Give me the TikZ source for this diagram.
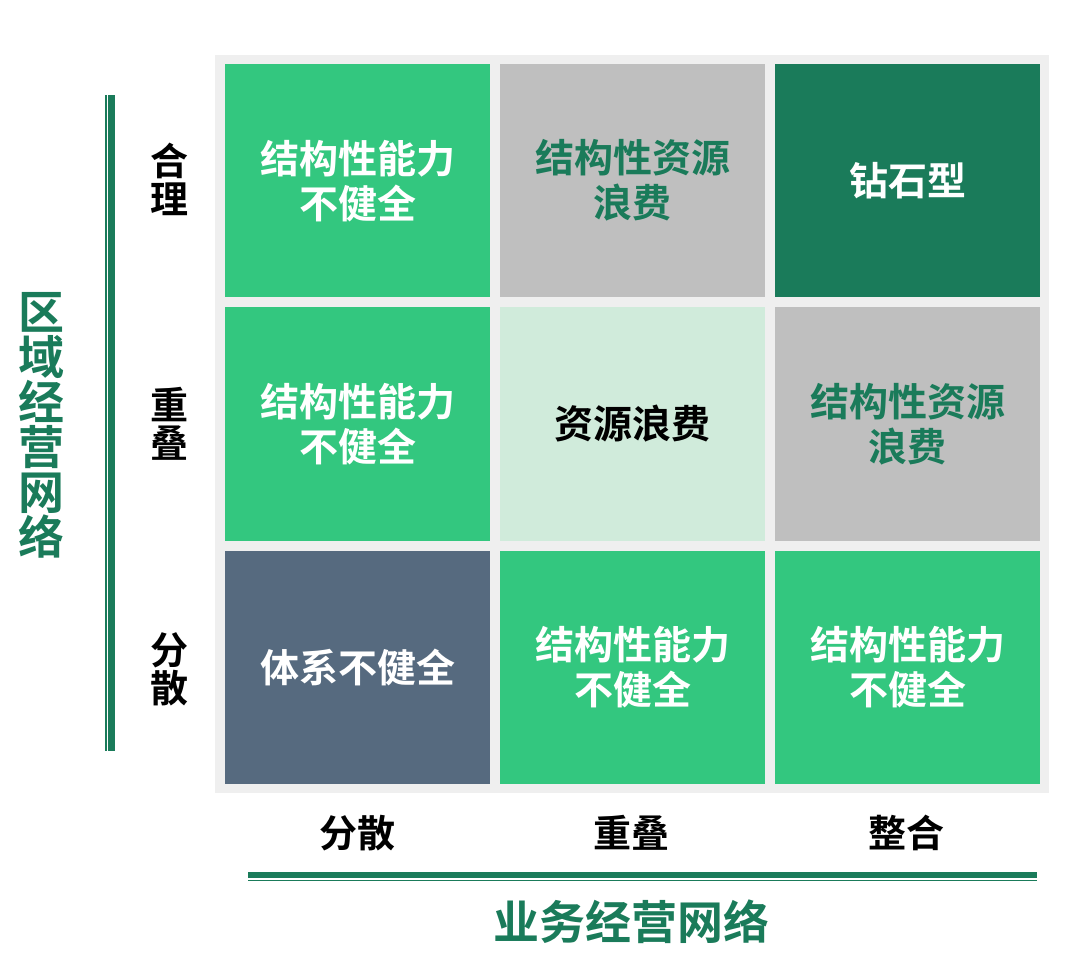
\documentclass[tikz,border=0pt]{standalone}
\usepackage{fontspec}
\setmainfont{Noto Sans CJK SC}[BoldFont={Noto Sans CJK SC Bold}]
\newfontfamily\cjkb{Noto Sans CJK SC Bold}
\definecolor{cgreen}{HTML}{33C77F}
\definecolor{dgreen}{HTML}{1A7B5A}
\definecolor{cgray}{HTML}{BFBFBF}
\definecolor{lgreen}{HTML}{D0EBDB}
\definecolor{slate}{HTML}{566A7F}
\definecolor{bgray}{HTML}{EFEFEF}
\tikzset{
  cell/.style={minimum width=265pt, minimum height=233.3pt, inner sep=0pt, align=center,
     font=\cjkb\fontsize{39}{45}\selectfont},
  lab/.style={inner sep=0pt, align=center, font=\cjkb\fontsize{38}{38}\selectfont},
  title/.style={inner sep=0pt, align=center, text=dgreen, font=\cjkb\fontsize{46}{45}\selectfont}
}
\begin{document}
\begin{tikzpicture}[x=1pt,y=-1pt]
\useasboundingbox (0,0) rectangle (1080,976);
\fill[bgray] (215,55) rectangle (1049,793);
% row 1
\node[cell, fill=cgreen, text=white] (c11) at (357.5,180.7) {结构性能力\\不健全};
\node[cell, fill=cgray, text=dgreen] (c12) at (632.5,180.7) {结构性资源\\浪费};
\node[cell, fill=dgreen, text=white] (c13) at (907.5,180.7) {钻石型};
% row 2
\node[cell, fill=cgreen, text=white] (c21) at (357.5,424) {结构性能力\\不健全};
\node[cell, fill=lgreen, text=black] (c22) at (632.5,424) {资源浪费};
\node[cell, fill=cgray, text=dgreen] (c23) at (907.5,424) {结构性资源\\浪费};
% row 3
\node[cell, fill=slate, text=white] (c31) at (357.5,667.3) {体系不健全};
\node[cell, fill=cgreen, text=white] (c32) at (632.5,667.3) {结构性能力\\不健全};
\node[cell, fill=cgreen, text=white] (c33) at (907.5,667.3) {结构性能力\\不健全};
% row labels
\node[lab] (r1) at (169,179) {合\\理};
\node[lab] (r2) at (169,424) {重\\叠};
\node[lab] (r3) at (169,669) {分\\散};
% column labels
\node[lab] (k1) at (357,833) {分散};
\node[lab] (k2) at (631,833) {重叠};
\node[lab] (k3) at (906,833) {整合};
% axes
\coordinate (lt) at (106,95);
\coordinate (lb) at (106,751);
\fill[dgreen] (105.3,95) rectangle (106.8,751);
\fill[dgreen] (108.3,95) rectangle (115,751);
\fill[dgreen] (248,871.7) rectangle (1037,877.7);
\fill[dgreen] (248,879.5) rectangle (1037,881);
\node[title] (yt) at (42,425) {区\\域\\经\\营\\网\\络};
\node[title] (xt) at (631,922) {业务经营网络};
\end{tikzpicture}
\end{document}
